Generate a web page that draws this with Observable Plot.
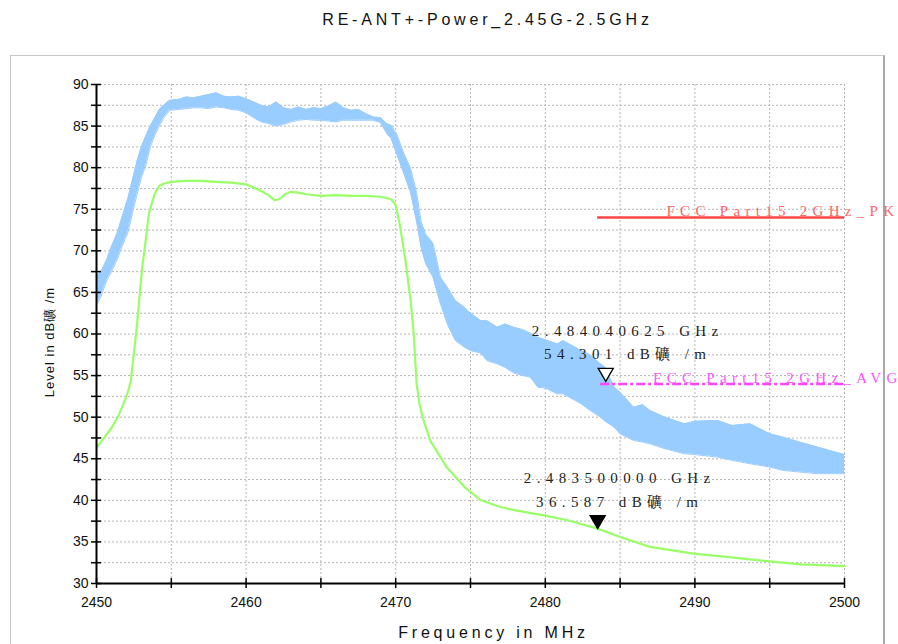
<!DOCTYPE html>
<html>
<head>
<meta charset="utf-8">
<script src="https://cdn.jsdelivr.net/npm/d3@7"></script>
<script src="https://cdn.jsdelivr.net/npm/@observablehq/plot@0.6"></script>
<style>
  html, body { margin: 0; padding: 0; background: #fff; }
  #wrap { position: relative; width: 898px; height: 644px; overflow: hidden; }
  #frame { position: absolute; left: 10px; top: 55px; width: 872px; height: 620px;
           border: 1px solid #c8c8c8; border-right: 2px solid #a8a8a8; }
  #chart { position: absolute; left: 0; top: 0; }
  #ylabel { position: absolute; left: -49px; top: 332px; width: 200px; height: 20px; line-height: 20px;
            text-align: center; transform: rotate(-90deg); font: 13px "Liberation Sans", Arial, sans-serif;
            letter-spacing: 1px; color: #111; white-space: pre; }
  g[font-family="Liberation Serif, serif"] { letter-spacing: 5.4px; }
  g[font-family="Liberation Serif, Times"] { letter-spacing: 5.3px; }
  g[font-family="Liberation Sans, Arial"] { letter-spacing: 3.8px; }
</style>
</head>
<body>
<div id="wrap"><div id="frame"></div><div id="ylabel"></div><div id="chart"></div></div>
<script>
// ---- data ----
const titleText = "RE-ANT+-Power_2.45G-2.5GHz";
const xLabel = "Frequency in MHz";
const yLabel = "Level in dB礦 /m";

// Peak trace (noisy) as envelope: frequency (MHz), lower, upper (dB)
const peakFreq = [2450.0,2450.3,2450.7,2451.0,2451.4,2451.7,2452.1,2452.4,2452.7,2453.0,2453.3,2453.6,2453.9,2454.2,2454.5,2454.9,2455.5,2456.0,2456.5,2457.0,2457.5,2458.0,2458.5,2459.0,2459.5,2460.0,2460.5,2461.0,2461.5,2462.0,2462.5,2463.0,2463.5,2464.0,2464.5,2465.0,2465.5,2466.0,2466.5,2467.0,2467.5,2468.0,2468.5,2469.0,2469.4,2469.7,2470.1,2470.5,2471.0,2471.4,2471.7,2472.0,2472.5,2473.0,2473.5,2474.0,2474.6,2475.0,2475.7,2476.1,2476.8,2477.3,2477.9,2478.5,2479.0,2479.5,2480.0,2480.8,2481.2,2482.0,2482.4,2483.0,2483.7,2484.0,2484.6,2485.0,2485.9,2486.5,2487.0,2488.0,2489.3,2490.0,2491.5,2492.5,2493.7,2495.0,2495.9,2497.0,2498.2,2499.0,2500.0];
const peakLow  = [63.5,64.5,66.5,67.5,69.0,70.5,72.2,74.5,76.7,78.8,80.3,82.5,83.9,85.0,86.0,86.9,87.0,87.1,87.2,87.2,87.1,87.3,87.2,87.0,86.9,86.6,86.0,85.5,85.3,85.0,85.2,85.5,85.7,85.8,85.7,85.7,85.6,85.5,85.7,85.7,85.7,85.7,85.7,85.4,84.1,83.5,81.5,79.5,77.0,73.5,70.4,68.5,66.8,63.6,61.0,59.2,58.4,58.0,57.7,56.8,56.4,56.0,55.3,55.0,54.8,53.6,53.5,52.8,52.8,52.0,51.6,50.8,50.0,49.5,48.8,48.0,47.2,47.0,46.8,46.2,45.6,45.5,45.2,44.8,44.4,44.0,43.6,43.4,43.2,43.2,43.2];
const peakHigh = [67.0,67.5,69.0,70.5,72.2,74.0,76.3,78.5,80.7,82.5,83.8,85.0,86.0,87.0,87.5,88.1,88.2,88.5,88.4,88.6,88.8,89.0,88.6,88.5,88.6,88.3,87.9,87.5,87.3,87.9,87.2,87.0,87.3,87.0,87.2,87.1,87.4,87.9,87.2,86.9,87.0,86.5,86.1,86.0,85.3,85.1,83.9,81.9,79.9,77.0,73.5,72.0,70.9,66.8,65.5,64.0,63.2,62.5,61.6,61.6,60.8,61.2,60.8,60.5,60.1,59.6,59.3,58.8,59.2,58.4,58.0,57.5,56.4,56.0,53.6,53.0,51.2,51.5,50.8,50.0,49.2,49.5,49.6,49.0,49.2,48.0,47.6,47.0,46.4,46.0,45.5];

// Average trace
const avgFreq = [2450.0,2450.5,2451.0,2451.5,2451.8,2452.1,2452.3,2452.5,2452.7,2452.9,2453.05,2453.2,2453.5,2453.9,2454.2,2454.5,2455.0,2456.0,2457.0,2458.0,2459.0,2460.0,2460.5,2461.0,2461.5,2461.9,2462.2,2462.6,2463.0,2463.5,2464.0,2465.0,2466.0,2467.0,2468.0,2469.0,2469.7,2470.0,2470.3,2470.65,2471.0,2471.2,2471.4,2471.6,2471.8,2472.3,2473.4,2474.6,2475.7,2477.0,2478.0,2479.9,2481.5,2483.5,2485.0,2487.0,2489.9,2492.6,2494.8,2497.1,2500.0];
const avgLevel = [46.3,47.5,48.7,50.3,51.6,53.0,54.4,57.7,61.0,65.0,68.0,70.0,74.5,76.9,77.8,78.1,78.3,78.4,78.4,78.3,78.2,78.0,77.6,77.2,76.7,76.1,76.2,76.8,77.1,77.0,76.8,76.6,76.7,76.6,76.6,76.5,76.2,75.5,72.9,68.8,64.0,60.0,54.0,51.5,50.0,47.2,44.0,41.6,40.0,39.2,38.8,38.2,37.6,36.6,35.6,34.4,33.6,33.1,32.7,32.3,32.1];

// Limit lines
const limitNames = ["FCC Part15 2GHz_PK", "FCC Part15 2GHz_AVG"];
const limitLevels = [74, 54];
const limitStart = [2483.5, 2483.7];
const limitEnd = [2500, 2500];
const limitLabelX = [2488.1, 2487.2];

// Markers
const markerFreq = [2484.040625, 2483.5];
const markerLevel = [54.301, 36.587];
const markerText = ["2.484040625 GHz\n54.301 dB礦 /m", "2.483500000 GHz\n36.587 dB礦 /m"];
const markerFilled = [false, true];

// Axis ticks
const xTicks = [2450,2455,2460,2465,2470,2475,2480,2485,2490,2495,2500];
const xTickLabels = ["2450","","2460","","2470","","2480","","2490","","2500"];
const yTicks = [30,32.5,35,37.5,40,42.5,45,47.5,50,52.5,55,57.5,60,62.5,65,67.5,70,72.5,75,77.5,80,82.5,85,87.5,90];
const yTickLabels = ["30","","35","","40","","45","","50","","55","","60","","65","","70","","75","","80","","85","","90"];

// ---- build tables ----
const peak = peakFreq.map((f, i) => ({f, lo: peakLow[i], hi: peakHigh[i]}));
const avg = avgFreq.map((f, i) => ({f, v: avgLevel[i]}));
const limits = limitNames.map((n, i) => ({n, y: limitLevels[i], x1: limitStart[i], x2: limitEnd[i], lx: limitLabelX[i]}));
const markers = markerFreq.map((f, i) => ({f, v: markerLevel[i], t: markerText[i], filled: markerFilled[i]}));

document.getElementById("ylabel").textContent = yLabel;

const chart = Plot.plot({
  width: 898, height: 644,
  marginLeft: 96, marginRight: 54, marginTop: 84, marginBottom: 61,
  style: {background: "transparent", overflow: "visible"},
  x: {domain: [2450, 2500]},
  y: {domain: [30, 90]},
  marks: [
    Plot.ruleY(yTicks.slice(1), {stroke: "#b4b4b4", strokeDasharray: "2,2", strokeWidth: 1}),
    Plot.ruleX(xTicks.slice(1), {stroke: "#b4b4b4", strokeDasharray: "2,2", strokeWidth: 1}),
    Plot.areaY(peak, {x: "f", y1: "lo", y2: "hi", fill: "#99ccff", curve: "linear"}),
    Plot.line(peak, {x: "f", y: "hi", stroke: "#99ccff", strokeWidth: 1}),
    Plot.line(peak, {x: "f", y: "lo", stroke: "#99ccff", strokeWidth: 1}),
    Plot.line(avg, {x: "f", y: "v", stroke: "#99ff66", strokeWidth: 2.2}),
    Plot.ruleY([limits[0]], {y: "y", x1: "x1", x2: "x2", stroke: "#ff4444", strokeWidth: 2.5}),
    Plot.ruleY([limits[1]], {y: "y", x1: "x1", x2: "x2", stroke: "#ff44ff", strokeWidth: 2.5, strokeDasharray: "9,3,3,3"}),
    Plot.text([limits[0]], {x: "lx", y: "y", text: "n", textAnchor: "start", lineAnchor: "bottom", dy: -2,
      fill: "#ff6666", fontSize: 15, fontFamily: "Liberation Serif, Times"}),
    Plot.text([limits[1]], {x: "lx", y: "y", text: "n", textAnchor: "start", lineAnchor: "bottom", dy: -1,
      fill: "#ff55ff", fontSize: 15, fontFamily: "Liberation Serif, Times"}),
    Plot.dot(markers, {x: "f", y: "v", symbol: "triangle", rotate: 180, r: 5.6, dy: -8.7,
      fill: d => d.filled ? "#000" : "#fff", stroke: "#000", strokeWidth: 1.3}),
    Plot.text(markers, {x: "f", y: "v", text: "t", textAnchor: "middle", lineAnchor: "bottom", dx: 22, dy: -22,
      lineHeight: 1.55, fill: "#222", fontSize: 15, fontFamily: "Liberation Serif, serif"}),
    Plot.ruleX([2450], {stroke: "#000", strokeWidth: 2}),
    Plot.ruleY([30], {stroke: "#000", strokeWidth: 2}),
    Plot.axisX({ticks: xTicks, tickSize: 10, dy: -5, tickPadding: 9, tickFormat: (d, i) => xTickLabels[i],
      label: null, fontSize: 14, fontFamily: "Liberation Sans", stroke: "#000", strokeWidth: 1.5, strokeOpacity: 1, fill: "#111"}),
    Plot.axisY({ticks: yTicks, tickSize: 10, dx: 5, tickPadding: 3, tickFormat: (d, i) => yTickLabels[i],
      label: null, fontSize: 14, fontFamily: "Liberation Sans", stroke: "#000", strokeWidth: 1.5, strokeOpacity: 1, fill: "#111"}),
    Plot.text([titleText], {frameAnchor: "top", dx: 17, dy: -65, fontSize: 16, fill: "#111",
      fontFamily: "Liberation Sans, Arial", lineAnchor: "middle"}),
    Plot.text([xLabel], {frameAnchor: "bottom", dx: 23, dy: 49, fontSize: 16, fill: "#111",
      fontFamily: "Liberation Sans, Arial", lineAnchor: "middle"})
  ]
});
document.getElementById("chart").appendChild(chart);
</script>
</body>
</html>
